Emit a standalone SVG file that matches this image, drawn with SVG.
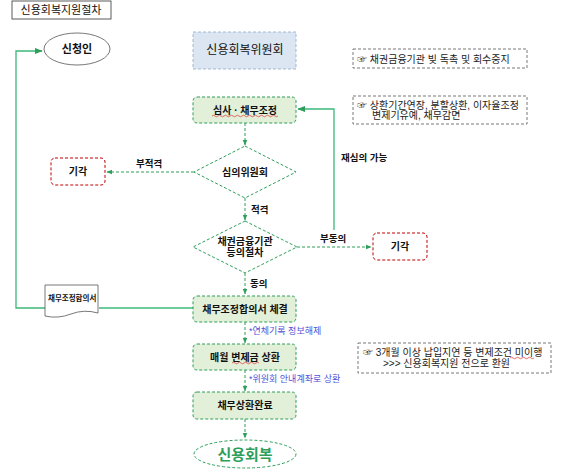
<svg xmlns="http://www.w3.org/2000/svg" width="569" height="474" viewBox="0 0 569 474">
<style>
text{font-family:"Liberation Sans","Noto Sans CJK KR",sans-serif;fill:#111;}
.t{font-size:10px;text-anchor:middle;dominant-baseline:central;}
.b{font-weight:bold;}
.proc{fill:#e2efd9;stroke:#2e9e5b;stroke-width:1;stroke-dasharray:3,2;}
.rej{fill:#fff;stroke:#c00000;stroke-width:1;stroke-dasharray:3,2;}
.dia{fill:#fff;stroke:#2e9e5b;stroke-width:1;stroke-dasharray:3,2;}
.note{fill:#fff;stroke:#555;stroke-width:0.8;stroke-dasharray:3,2;}
.dash{fill:none;stroke:#2e9e5b;stroke-width:1;stroke-dasharray:3,2;}
.solid{fill:none;stroke:#3cb878;stroke-width:1.3;}
.lbl{font-size:9.5px;font-weight:bold;dominant-baseline:central;}
.blue{font-size:9px;fill:#5050d8;dominant-baseline:central;}
.nt{font-size:10px;fill:#222;dominant-baseline:central;}
.wavy{fill:none;stroke:#e03030;stroke-width:0.7;}
</style>
<defs>
<marker id="ah" viewBox="0 0 10 10" refX="9" refY="5" markerWidth="6" markerHeight="6" orient="auto"><path d="M0,1 L10,5 L0,9 z" fill="#2e9e5b"/></marker>
</defs>
<g id="title"><rect x="12" y="1" width="99" height="18" fill="#fff" stroke="#333" stroke-width="0.8"/><text class="t" x="61" y="10" style="font-size:11px">신용회복지원절차</text></g>
<g id="connectors">
<path class="solid" d="M99,308 L193,308"/>
<path class="solid" d="M45,308 L16,308 L16,51 L42,51" marker-end="url(#ah)"/>
<path class="solid" d="M334,230 L334,109 L298,109" marker-end="url(#ah)"/>
<path class="dash" d="M245,123 L245,145" marker-end="url(#ah)"/>
<path class="dash" d="M194,172 L107,172" marker-end="url(#ah)"/>
<path class="dash" d="M245,198 L245,220" marker-end="url(#ah)"/>
<path class="dash" d="M297,247 L371,247" marker-end="url(#ah)"/>
<path class="dash" d="M245,273 L245,294" marker-end="url(#ah)"/>
<path class="dash" d="M245,322 L245,343" marker-end="url(#ah)"/>
<path class="dash" d="M245,370 L245,391" marker-end="url(#ah)"/>
<path class="dash" d="M245,419 L245,438" marker-end="url(#ah)"/>
<text class="lbl" x="136" y="163">부적격</text>
<text class="lbl" x="251" y="209">적격</text>
<text class="lbl" x="320" y="238">부동의</text>
<text class="lbl" x="341" y="157">재심의 가능</text>
<text class="lbl" x="250" y="283">동의</text>
<text class="blue" x="249" y="331">*연체기록 정보해제</text>
<text class="blue" x="249" y="379">*위원회 안내계좌로 상환</text>
</g>
<g id="applicant"><ellipse cx="77" cy="49" rx="33" ry="16" fill="#fff" stroke="#555" stroke-width="0.8"/><text class="t b" x="77" y="49" style="font-size:11px">신청인</text></g>
<g id="committee"><rect x="193" y="32" width="103" height="37" fill="#dce6f2" stroke="#8ea9c8" stroke-width="0.8" stroke-dasharray="3,2"/><text class="t" x="245" y="50" style="font-size:12px">신용회복위원회</text></g>
<g id="review"><rect class="proc" x="193" y="97" width="103" height="26" rx="4"/><text class="t b" x="245" y="110">심사 · 채무조정</text><path class="wavy" d="M212,116 q1.5,-1.5 3,0 t3,0 t3,0 t3,0 t3,0 t3,0 t3,0 t3,0 t3,0 t3,0 t3,0 t3,0 t3,0 t3,0 t3,0 t3,0 t3,0 t3,0 t3,0 t3,0 t3,0 t3,0"/></g>
<g id="deliberation"><polygon class="dia" points="245,146 296,172 245,198 194,172"/><text class="t b" x="245" y="172">심의위원회</text></g>
<g id="reject1"><rect class="rej" x="51" y="158" width="54" height="27" rx="4"/><text class="t b" x="78" y="171">기각</text></g>
<g id="creditor"><polygon class="dia" points="245,221 297,247 245,273 193,247"/><text class="t b" x="245" y="241">채권금융기관</text><text class="t b" x="245" y="252">등의절차</text></g>
<g id="reject2"><rect class="rej" x="373" y="233" width="54" height="27" rx="4"/><text class="t b" x="400" y="246">기각</text></g>
<g id="document"><path d="M45,285 L98,285 L98,313 Q84,309 71,314 Q58,319 45,316 Z" fill="#fff" stroke="#555" stroke-width="0.8"/><text x="48" y="298" font-size="7.5" font-weight="bold" dominant-baseline="central">채무조정합의서</text></g>
<g id="agreement"><rect class="proc" x="193" y="296" width="103" height="26" rx="4"/><text class="t b" x="245" y="309">채무조정합의서 체결</text></g>
<g id="repay"><rect class="proc" x="193" y="344" width="103" height="26" rx="4"/><text class="t b" x="245" y="357">매월 변제금 상환</text><path class="wavy" d="M232,363 q1.5,-1.5 3,0 t3,0 t3,0 t3,0 t3,0 t3,0 t3,0 t3,0 t3,0"/></g>
<g id="complete"><rect class="proc" x="193" y="392" width="103" height="27" rx="4"/><text class="t b" x="245" y="405">채무상환완료</text></g>
<g id="recovery"><ellipse cx="245" cy="454" rx="51" ry="14" fill="#fff" stroke="#2e9e5b" stroke-width="1" stroke-dasharray="3,2"/><text class="t b" x="245" y="454" style="font-size:15px;fill:#2e9e5b">신용회복</text></g>
<g id="note1"><rect class="note" x="353" y="49" width="174" height="19"/><text class="nt" x="357" y="59">☞ 채권금융기관 빚 독촉 및 회수중지</text></g>
<g id="note2"><rect class="note" x="353" y="96" width="174" height="28"/><text class="nt" x="357" y="105">☞ 상환기간연장, 분할상환, 이자율조정</text><text class="nt" x="372" y="115">변제기유예, 채무감면</text></g>
<g id="note3"><rect class="note" x="358" y="343" width="193" height="30"/><text class="nt" x="363" y="352">☞ 3개월 이상 납입지연 등 변제조건 미이행</text><text class="nt" x="383" y="363">&gt;&gt;&gt; 신용회복지원 전으로 환원</text><path class="wavy" d="M510,358 q1.5,-1.5 3,0 t3,0 t3,0 t3,0 t3,0 t3,0 t3,0 t3,0"/></g>
</svg>
